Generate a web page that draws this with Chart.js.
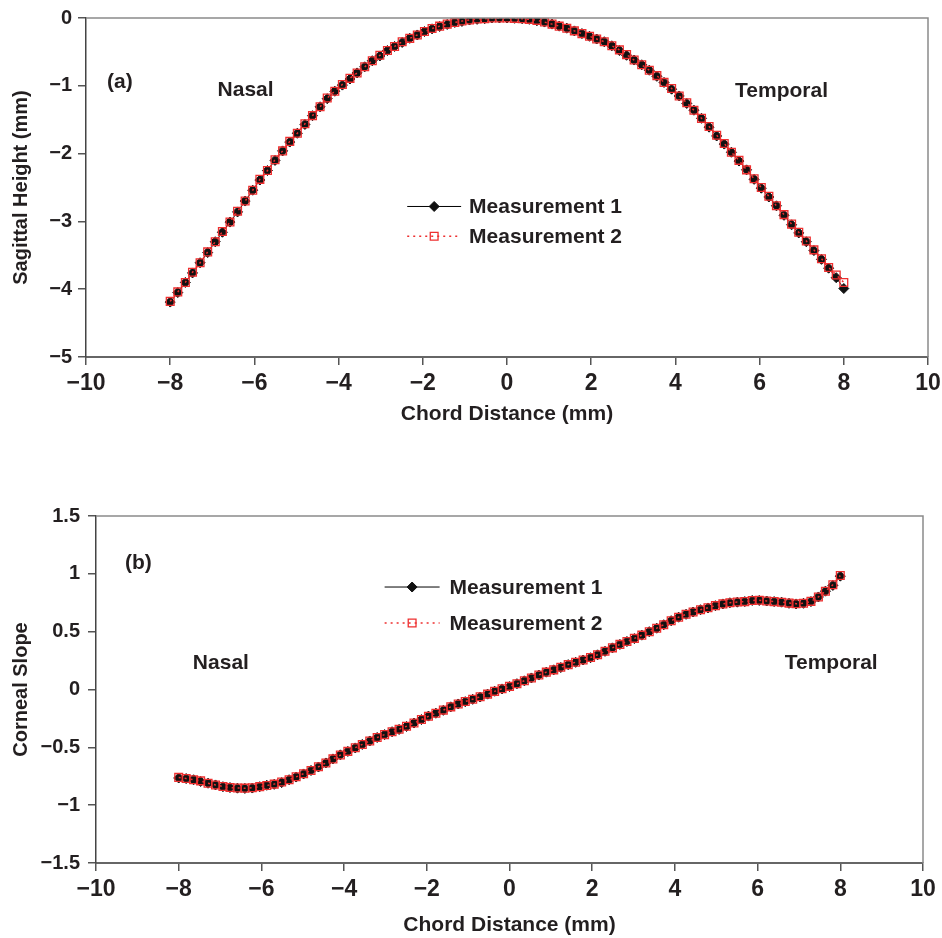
<!DOCTYPE html>
<html>
<head>
<meta charset="utf-8">
<script src="https://cdn.jsdelivr.net/npm/chart.js@4.4.1/dist/chart.umd.min.js"></script>
<style>
  html, body { margin: 0; padding: 0; background: #fff; }
  #wrap { position: relative; width: 942px; height: 938px; }
  .box { position: absolute; left: 0; width: 942px; }
  #boxA { top: 0; height: 430px; }
  #boxB { top: 470px; height: 468px; }
</style>
</head>
<body>
<div id="wrap">
  <div class="box" id="boxA"><canvas id="sagChart"></canvas></div>
  <div class="box" id="boxB"><canvas id="slopeChart"></canvas></div>
</div>
<script>
// chord positions (mm)
const chordPositions = [
  -8, -7.82, -7.64, -7.47, -7.29, -7.11, -6.93, -6.76, -6.58, -6.4, -6.22, -6.04, -5.87, -5.69, -5.51,
  -5.33, -5.16, -4.98, -4.8, -4.62, -4.44, -4.27, -4.09, -3.91, -3.73, -3.56, -3.38, -3.2, -3.02, -2.84,
  -2.67, -2.49, -2.31, -2.13, -1.96, -1.78, -1.6, -1.42, -1.24, -1.07, -0.89, -0.71, -0.53, -0.36, -0.18,
  0,
  0.18, 0.36, 0.53, 0.71, 0.89, 1.07, 1.24, 1.42, 1.6, 1.78, 1.96, 2.13, 2.31, 2.49, 2.67,
  2.84, 3.02, 3.2, 3.38, 3.56, 3.73, 3.91, 4.09, 4.27, 4.44, 4.62, 4.8, 4.98, 5.16, 5.33,
  5.51, 5.69, 5.87, 6.04, 6.22, 6.4, 6.58, 6.76, 6.93, 7.11, 7.29, 7.47, 7.64, 7.82, 8
];

// (a) sagittal height (mm)
const sagittalM1 = [
  -4.19, -4.05, -3.90, -3.76, -3.61, -3.46, -3.30, -3.16, -3.01, -2.86, -2.70, -2.54, -2.39, -2.25, -2.10,
  -1.96, -1.83, -1.70, -1.57, -1.44, -1.31, -1.19, -1.08, -0.99, -0.90, -0.81, -0.72, -0.63, -0.56, -0.48,
  -0.42, -0.36, -0.30, -0.25, -0.20, -0.16, -0.125, -0.095, -0.065, -0.05, -0.03, -0.02, -0.01, 0, 0,
  0,
  -0.005, -0.01, -0.02, -0.04, -0.06, -0.09, -0.12, -0.15, -0.19, -0.23, -0.27, -0.31, -0.35, -0.41, -0.48,
  -0.55, -0.62, -0.69, -0.77, -0.86, -0.95, -1.05, -1.15, -1.26, -1.36, -1.48, -1.61, -1.74, -1.86, -1.98,
  -2.11, -2.24, -2.38, -2.51, -2.64, -2.77, -2.91, -3.05, -3.17, -3.30, -3.43, -3.56, -3.69, -3.83, -3.99
];
const sagittalM2 = [
  -4.18, -4.04, -3.90, -3.75, -3.61, -3.45, -3.30, -3.15, -3.01, -2.85, -2.70, -2.54, -2.38, -2.25, -2.09,
  -1.96, -1.82, -1.70, -1.56, -1.44, -1.31, -1.18, -1.08, -0.98, -0.89, -0.81, -0.72, -0.63, -0.55, -0.48,
  -0.42, -0.35, -0.30, -0.25, -0.20, -0.155, -0.12, -0.09, -0.065, -0.045, -0.03, -0.015, -0.01, 0, 0,
  0,
  -0.005, -0.01, -0.02, -0.035, -0.06, -0.09, -0.12, -0.15, -0.19, -0.23, -0.27, -0.31, -0.35, -0.41, -0.47,
  -0.54, -0.62, -0.69, -0.77, -0.85, -0.95, -1.04, -1.15, -1.25, -1.36, -1.48, -1.60, -1.73, -1.85, -1.98,
  -2.10, -2.24, -2.37, -2.50, -2.63, -2.77, -2.90, -3.04, -3.16, -3.29, -3.42, -3.55, -3.68, -3.79, -3.90
];

// (b) corneal slope
const slopeM1 = [
  -0.765, -0.77, -0.78, -0.795, -0.81, -0.825, -0.84, -0.848, -0.853, -0.855, -0.852, -0.84, -0.828, -0.82, -0.805,
  -0.78, -0.757, -0.73, -0.70, -0.67, -0.635, -0.60, -0.565, -0.535, -0.505, -0.475, -0.445, -0.415, -0.39, -0.365,
  -0.345, -0.32, -0.29, -0.26, -0.23, -0.205, -0.18, -0.15, -0.125, -0.105, -0.085, -0.065, -0.04, -0.015, 0.005,
  0.025,
  0.05, 0.075, 0.10, 0.125, 0.15, 0.17, 0.19, 0.215, 0.235, 0.255, 0.275, 0.30, 0.33, 0.36, 0.39,
  0.415, 0.44, 0.47, 0.50, 0.53, 0.56, 0.595, 0.625, 0.65, 0.67, 0.69, 0.705, 0.725, 0.74, 0.75,
  0.755, 0.76, 0.77, 0.77, 0.765, 0.76, 0.755, 0.745, 0.74, 0.745, 0.76, 0.80, 0.85, 0.90, 0.98
];
const slopeM2 = [
  -0.76, -0.77, -0.78, -0.79, -0.81, -0.825, -0.838, -0.848, -0.852, -0.853, -0.85, -0.84, -0.83, -0.818, -0.80,
  -0.78, -0.755, -0.728, -0.70, -0.668, -0.635, -0.60, -0.567, -0.535, -0.503, -0.475, -0.445, -0.415, -0.39, -0.366,
  -0.343, -0.318, -0.29, -0.26, -0.232, -0.205, -0.178, -0.15, -0.126, -0.104, -0.084, -0.063, -0.04, -0.016, 0.006,
  0.027,
  0.05, 0.076, 0.10, 0.126, 0.15, 0.17, 0.192, 0.215, 0.236, 0.255, 0.277, 0.30, 0.33, 0.36, 0.39,
  0.415, 0.442, 0.47, 0.50, 0.53, 0.56, 0.595, 0.625, 0.65, 0.67, 0.69, 0.707, 0.725, 0.74, 0.75,
  0.756, 0.76, 0.77, 0.772, 0.765, 0.76, 0.755, 0.747, 0.742, 0.745, 0.762, 0.80, 0.85, 0.905, 0.985
];

const ink = '#231f20';
const red = '#ee2f2f';
const fontFamily = '"Liberation Sans", Arial, sans-serif';
const minus = v => String(v).replace('-', '\u2212');

// draws the grey top/right frame, the text notes and the inset legend
const extras = {
  id: 'extras',
  afterDraw(chart, args, opts) {
    const { ctx, chartArea: a, scales: { x, y } } = chart;
    ctx.save();
    ctx.strokeStyle = '#8a8a8a';
    ctx.lineWidth = 1.5;
    ctx.beginPath();
    ctx.moveTo(a.left, a.top);
    ctx.lineTo(a.right, a.top);
    ctx.lineTo(a.right, a.bottom);
    ctx.stroke();

    ctx.fillStyle = ink;
    ctx.font = 'bold 21px ' + fontFamily;
    ctx.textBaseline = 'middle';
    opts.notes.forEach(n => {
      ctx.textAlign = n.align || 'center';
      ctx.fillText(n.text, x.getPixelForValue(n.x), y.getPixelForValue(n.y));
    });

    const lg = opts.legend;
    ctx.textAlign = 'left';
    chart.data.datasets.forEach((ds, i) => {
      const py = y.getPixelForValue(lg.rows[i]);
      const x1 = x.getPixelForValue(lg.x1), x2 = x.getPixelForValue(lg.x2);
      ctx.strokeStyle = ds.borderColor;
      ctx.lineWidth = ds.borderWidth;
      ctx.setLineDash(ds.borderDash || []);
      ctx.beginPath();
      ctx.moveTo(x1, py);
      ctx.lineTo(x2, py);
      ctx.stroke();
      ctx.setLineDash([]);
      ctx.fillStyle = ds.pointBackgroundColor;
      ctx.strokeStyle = ds.pointBorderColor;
      ctx.lineWidth = ds.pointBorderWidth;
      Chart.helpers.drawPoint(ctx, {
        pointStyle: ds.pointStyle, radius: ds.pointRadius, rotation: 0, borderWidth: ds.pointBorderWidth
      }, (x1 + x2) / 2, py);
      ctx.fillStyle = ink;
      ctx.fillText(ds.label, x.getPixelForValue(lg.textX), py + 1);
    });
    ctx.restore();
  }
};

function buildDatasets(m1, m2) {
  return [
    {
      label: 'Measurement 1',
      data: chordPositions.map((c, i) => ({ x: c, y: m1[i] })),
      borderColor: '#000', borderWidth: 1,
      pointStyle: 'rectRot', pointRadius: 5, pointBorderWidth: 1,
      pointBackgroundColor: '#111', pointBorderColor: '#111',
      order: 1
    },
    {
      label: 'Measurement 2',
      data: chordPositions.map((c, i) => ({ x: c, y: m2[i] })),
      borderColor: red, borderWidth: 1.5, borderDash: [2, 4],
      pointStyle: 'rect', pointRadius: 5.5, pointBorderWidth: 1.3,
      pointBackgroundColor: 'rgba(0,0,0,0)', pointBorderColor: red,
      order: 0
    }
  ];
}

function buildOptions(cfg) {
  return {
    responsive: true,
    maintainAspectRatio: false,
    animation: false,
    layout: { padding: { top: cfg.padTop, left: 0, right: cfg.padRight, bottom: 0 } },
    plugins: {
      legend: { display: false },
      tooltip: { enabled: false },
      extras: { notes: cfg.notes, legend: cfg.legend }
    },
    scales: {
      x: {
        type: 'linear', min: -10, max: 10,
        ticks: {
          stepSize: 2, color: ink, padding: 5, callback: minus, maxRotation: 0,
          font: { family: fontFamily, size: 23, weight: 'bold' }
        },
        grid: { drawOnChartArea: false, tickLength: 8, color: '#555', lineWidth: 1.5 },
        border: { color: '#666', width: 2 },
        title: {
          display: true, text: 'Chord Distance (mm)', color: ink,
          font: { family: fontFamily, size: 21, weight: 'bold' },
          padding: { top: 0, bottom: cfg.xTitlePad }
        },
        afterFit: s => { s.height = cfg.xHeight; s.paddingRight = cfg.labelOverhang; }
      },
      y: {
        type: 'linear', min: cfg.yMin, max: cfg.yMax,
        ticks: {
          stepSize: cfg.yStep, color: ink, padding: cfg.yTickPad, callback: minus,
          font: { family: fontFamily, size: 20, weight: 'bold' }
        },
        grid: { drawOnChartArea: false, tickLength: 8, color: '#555', lineWidth: 1.5 },
        border: { color: '#444', width: 1.5 },
        title: {
          display: true, text: cfg.yTitle, color: ink,
          font: { family: fontFamily, size: 20, weight: 'bold' },
          padding: { top: 9, bottom: 0 }
        },
        afterFit: s => { s.width = cfg.yWidth; }
      }
    }
  };
}

document.addEventListener('DOMContentLoaded', () => {
  new Chart(document.getElementById('sagChart'), {
    type: 'line',
    data: { datasets: buildDatasets(sagittalM1, sagittalM2) },
    options: buildOptions({
      padTop: 15, padRight: 0, labelOverhang: 14, xHeight: 73, xTitlePad: 3, yWidth: 86, yTickPad: 6,
      yMin: -5, yMax: 0, yStep: 1, yTitle: 'Sagittal Height (mm)',
      notes: [
        { text: '(a)', x: -9.5, y: -0.95, align: 'left' },
        { text: 'Nasal', x: -6.21, y: -1.07 },
        { text: 'Temporal', x: 6.52, y: -1.08 }
      ],
      legend: { x1: -2.37, x2: -1.09, textX: -0.9, rows: [-2.78, -3.22] }
    }),
    plugins: [extras]
  });

  new Chart(document.getElementById('slopeChart'), {
    type: 'line',
    data: { datasets: buildDatasets(slopeM1, slopeM2) },
    options: buildOptions({
      padTop: 46, padRight: 0, labelOverhang: 19, xHeight: 75, xTitlePad: 0, yWidth: 96, yTickPad: 8,
      yMin: -1.5, yMax: 1.5, yStep: 0.5, yTitle: 'Corneal Slope',
      notes: [
        { text: '(b)', x: -9.3, y: 1.09, align: 'left' },
        { text: 'Nasal', x: -6.98, y: 0.23 },
        { text: 'Temporal', x: 7.78, y: 0.23 }
      ],
      legend: { x1: -3.02, x2: -1.69, textX: -1.45, rows: [0.886, 0.575] }
    }),
    plugins: [extras]
  });
});
</script>
</body>
</html>
